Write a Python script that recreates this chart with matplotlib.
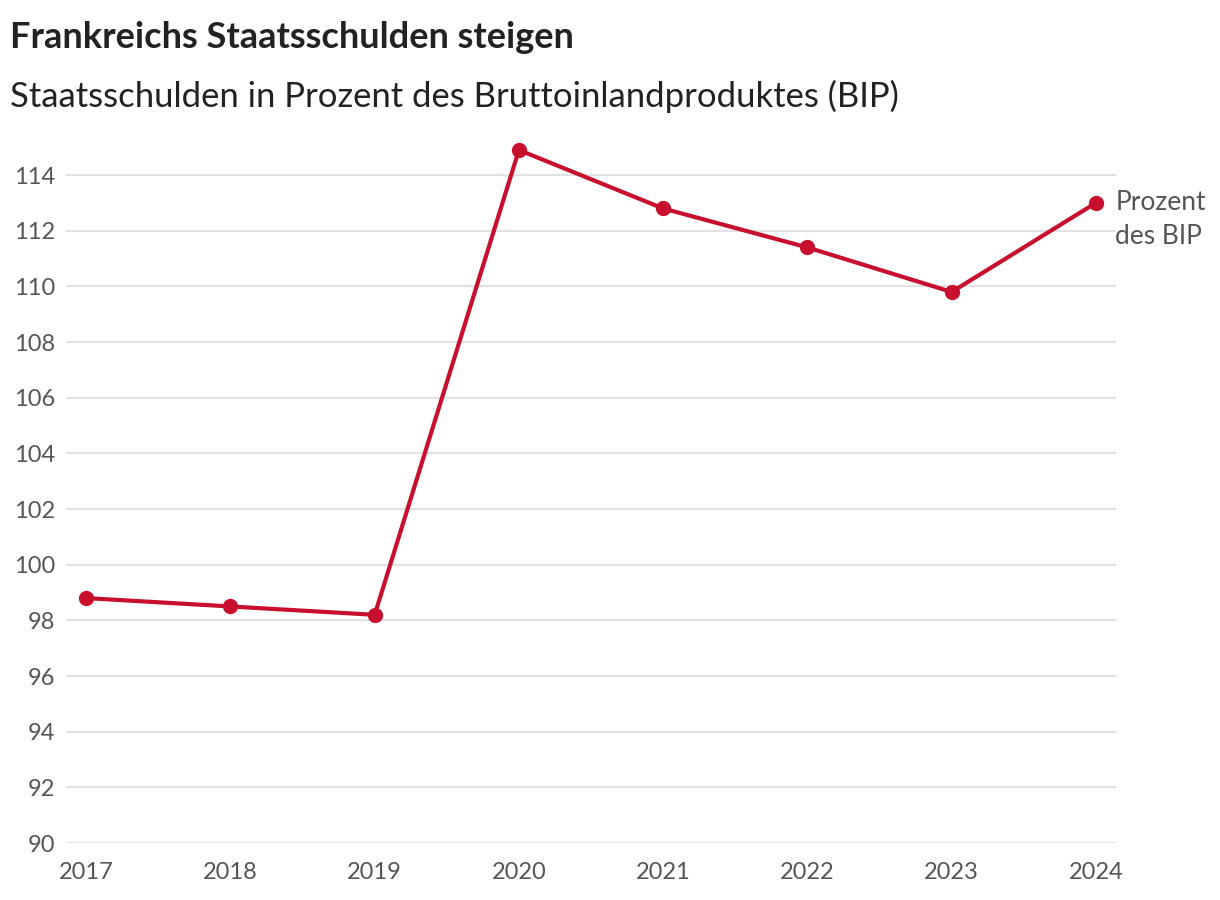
import matplotlib
matplotlib.use("Agg")
import matplotlib.pyplot as plt

years = [2017, 2018, 2019, 2020, 2021, 2022, 2023, 2024]
debt_pct = [98.8, 98.5, 98.2, 114.9, 112.8, 111.4, 109.8, 113.0]
y_ticks = list(range(90, 115, 2))
end_label = ["Prozent", "des BIP"]

RED = "#c8102e"
TEXT = "#222222"
TICK = "#555555"
GRID = "#e1e1e1"

plt.rcParams["font.family"] = ["Lato", "DejaVu Sans"]

fig = plt.figure(figsize=(12.2, 9), dpi=100)
ax = fig.add_axes([0.0541, 0.0633, 0.8607, 0.7731])

ax.plot(years, debt_pct, color=RED, linewidth=3, marker="o", markersize=10,
        clip_on=False, zorder=3)

ax.set_xlim(2016.86, 2024.14)
ax.set_ylim(90, 115)
ax.set_yticks(y_ticks)
ax.set_xticks(years)
ax.grid(axis="y", color=GRID, linewidth=1.5)
ax.grid(axis="x", visible=False)
for spine in ax.spines.values():
    spine.set_visible(False)
ax.tick_params(axis="both", length=0, labelsize=17, labelcolor=TICK)
ax.tick_params(axis="y", pad=8)
ax.tick_params(axis="x", pad=14)

# direct label next to the last point, one line at a time
for i, line in enumerate(end_label):
    ax.annotate(line, xy=(years[-1], debt_pct[-1]), xytext=(14, -24.5 * i),
                textcoords="offset points", ha="left", va="center",
                fontsize=19, color=TICK, annotation_clip=False)

fig.text(0.008, 0.958, "Frankreichs Staatsschulden steigen", fontsize=26,
         fontweight="bold", color=TEXT, va="center")
fig.text(0.008, 0.893, "Staatsschulden in Prozent des Bruttoinlandproduktes (BIP)",
         fontsize=24.9, fontweight="normal", color=TEXT, va="center")

fig.savefig("out.png", dpi=100)
